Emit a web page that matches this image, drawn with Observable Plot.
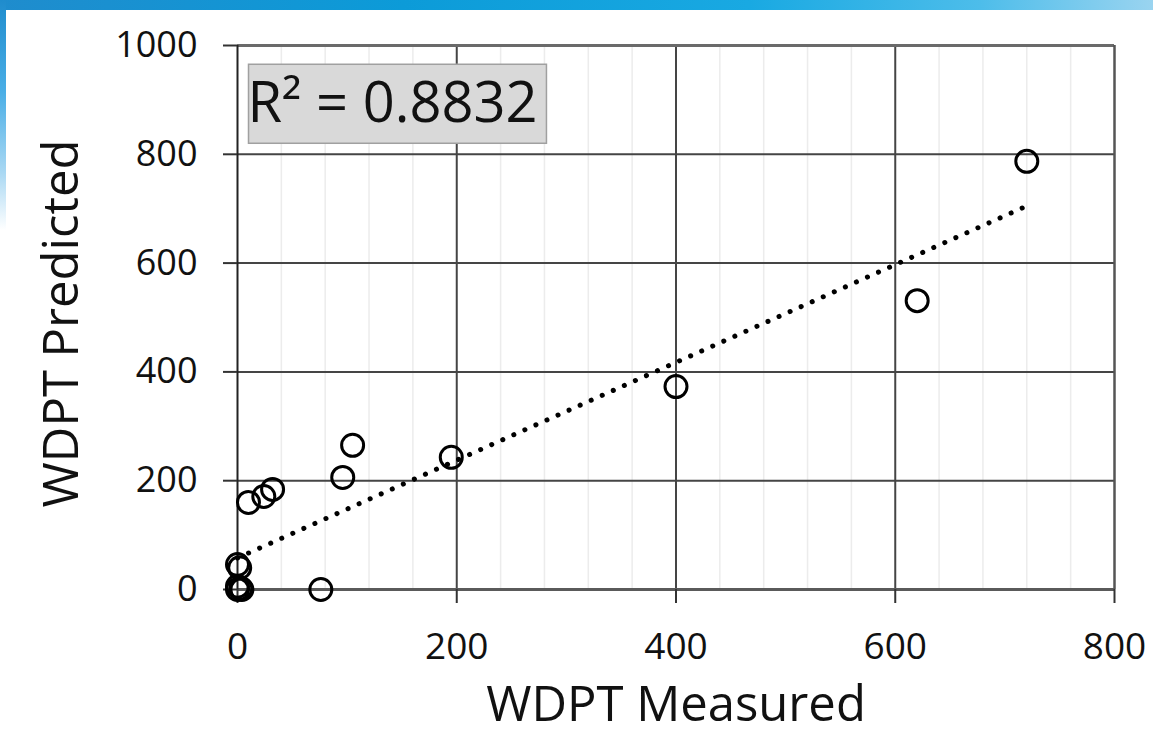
<!DOCTYPE html>
<html>
<head>
<meta charset="utf-8">
<script src="https://cdn.jsdelivr.net/npm/d3@7"></script>
<script src="https://cdn.jsdelivr.net/npm/@observablehq/plot@0.6"></script>
<style>
html, body { margin: 0; padding: 0; background: #fff; overflow: hidden; }
#wrap { position: relative; width: 1153px; height: 732px; }
#chart { position: absolute; left: 0; top: 0; }
#band { position: absolute; left: 0; top: 0; width: 1153px; height: 10px; z-index: 2;
  background: linear-gradient(90deg, #1f8ccd 0%, #0c9bd8 35%, #19a9e2 65%, #4dbdea 85%, #9ad4f0 100%); }
#strip { position: absolute; left: 0; top: 0; width: 6px; height: 230px; z-index: 2;
  background: linear-gradient(180deg, #1f8ccd 0%, #4aaee6 40%, #a9d8f3 75%, rgba(255,255,255,0) 100%); }
</style>
</head>
<body>
<div id="wrap">
  <div id="chart"></div>
  <div id="band"></div>
  <div id="strip"></div>
</div>
<script>
// ---- data ----
const measured  = [720, 620, 400, 195, 105, 96, 32, 24, 10, 76, 0, 2, 0, 3, 4, 0];
const predicted = [787, 531, 373, 243, 265, 206, 184, 171, 160, 0, 46, 40, 6, 2, 0, 0];
const trendMeasured  = [0, 720];
const trendPredicted = [58, 705];
const xTicks = [0, 200, 400, 600, 800];
const yTicks = [0, 200, 400, 600, 800, 1000];
const xGrid = [200, 400, 600];
const yGrid = [200, 400, 600, 800];
const xMinorGrid = [40, 80, 120, 160, 240, 280, 320, 360, 440, 480, 520, 560, 640, 680, 720, 760];
const r2Label = "R\u00B2 = 0.8832";
const xLabel = "WDPT Measured";
const yLabel = "WDPT Predicted";

const points = measured.map((m, i) => ({m, p: predicted[i]}));
const trend = trendMeasured.map((m, i) => ({m, p: trendPredicted[i]}));

const gridColor = "#454545";
const font = "'Open Sans', sans-serif";

const plot = Plot.plot({
  width: 1153,
  height: 732,
  marginLeft: 237,
  marginRight: 39,
  marginTop: 45,
  marginBottom: 143,
  x: {domain: [0, 800], axis: null},
  y: {domain: [0, 1000], axis: null},
  style: {fontFamily: font, background: "transparent", color: "#000"},
  marks: [
    Plot.ruleX(xMinorGrid, {stroke: "#ececec", strokeWidth: 1.5}),
    Plot.ruleX(xGrid, {stroke: gridColor, strokeWidth: 2}),
    Plot.ruleY(yGrid, {stroke: gridColor, strokeWidth: 2}),
    Plot.ruleY([1000], {stroke: "#6a6a6a", strokeWidth: 3}),
    Plot.ruleX([800], {stroke: "#555", strokeWidth: 2.5}),
    Plot.ruleY([0], {stroke: "#5a5a5a", strokeWidth: 3}),
    Plot.ruleX([0], {stroke: "#222", strokeWidth: 2}),
    Plot.axisX({ticks: xTicks, tickFormat: d => String(d), tickSize: 14, tickPadding: 29, fontSize: 37, stroke: "#333", strokeWidth: 2, label: null, fill: "#111"}),
    Plot.axisY({ticks: yTicks, tickFormat: d => String(d), tickSize: 14, tickPadding: 26, fontSize: 36, stroke: "#333", strokeWidth: 2, label: null, fill: "#111"}),
    Plot.line(trend, {x: "m", y: "p", stroke: "#000", strokeWidth: 5, strokeDasharray: "0.1 12", strokeLinecap: "round"}),
    Plot.dot(points, {x: "m", y: "p", r: 11, stroke: "#000", strokeWidth: 3, fill: "none"}),
    Plot.text([r2Label], {frameAnchor: "top-left", textAnchor: "start", lineAnchor: "top", dx: 10, dy: 37, fontSize: 56, fill: "#111"}),
    Plot.text([xLabel], {frameAnchor: "bottom", textAnchor: "middle", dy: 131, fontSize: 49, fill: "#111"}),
    Plot.text([yLabel], {frameAnchor: "left", textAnchor: "middle", rotate: -90, dx: -175, dy: 6, fontSize: 49, fill: "#111"})
  ]
});

document.getElementById("chart").appendChild(plot);

// grey box behind the R² annotation, sized from the rendered text
d3.select(plot).selectAll("text").filter(function() { return this.textContent === r2Label; }).each(function() {
  const b = this.getBBox();
  const g = this.parentNode;
  const rect = document.createElementNS("http://www.w3.org/2000/svg", "rect");
  rect.setAttribute("x", b.x + 1);
  rect.setAttribute("y", b.y + 2);
  rect.setAttribute("width", b.width + 8);
  rect.setAttribute("height", b.height + 3);
  rect.setAttribute("fill", "#d9d9d9");
  rect.setAttribute("stroke", "#a0a0a0");
  rect.setAttribute("stroke-width", "1.5");
  if (this.getAttribute("transform")) rect.setAttribute("transform", this.getAttribute("transform"));
  g.insertBefore(rect, this);
});
</script>
</body>
</html>
